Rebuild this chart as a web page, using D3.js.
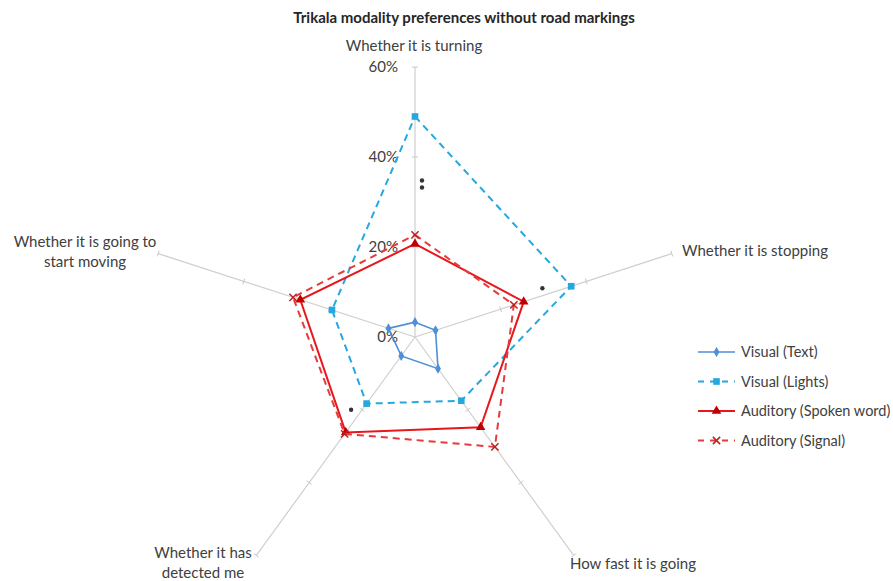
<!DOCTYPE html>
<html><head><meta charset="utf-8">
<script src="https://cdn.jsdelivr.net/npm/d3@7"></script>
<style>body{margin:0;background:#fff;} text{font-family:Lato,"Open Sans",sans-serif;}</style>
</head><body><svg id="c" width="893" height="581"></svg>
<script>
const categories = ["Whether it is turning","Whether it is stopping","How fast it is going","Whether it has detected me","Whether it is going to start moving"];
const visualText = [3.3, 4.8, 8.7, 5.2, 6.2];
const visualLights = [49, 36.5, 17.5, 18.3, 19.4];
const auditorySpoken = [20.7, 25.4, 24.8, 26.2, 26.8];
const auditorySignal = [22.7, 23.1, 30.2, 26.6, 28.5];
const tickValues = [0, 20, 40, 60];
const tickLabels = ["0%", "20%", "40%", "60%"];
const seriesNames = ["Visual (Text)", "Visual (Lights)", "Auditory (Spoken word)", "Auditory (Signal)"];
const significance = [{axis:0, value:34, label:"**"}, {axis:1, value:30, label:"*"}, {axis:3, value:20, label:"*"}];

const svg = d3.select("#c");
const cx = 415, cy = 337;
const r = d3.scaleLinear().domain([0, 60]).range([0, 270]);
const angle = d3.scaleLinear().domain([0, categories.length]).range([-Math.PI/2, 1.5*Math.PI]);
const pt = (i, v) => [cx + r(v)*Math.cos(angle(i)), cy + r(v)*Math.sin(angle(i))];

svg.append("text").attr("x", 464).attr("y", 23).attr("text-anchor","middle")
  .attr("font-size", 15).attr("font-weight","bold").attr("fill","#262626")
  .text("Trikala modality preferences without road markings");

// axes
categories.forEach((c, i) => {
  const [x2, y2] = pt(i, 60);
  svg.append("line").attr("x1", cx).attr("y1", cy).attr("x2", x2).attr("y2", y2)
    .attr("stroke", "#cfcfcf").attr("stroke-width", 1.2);
  const a = angle(i);
  tickValues.slice(1).forEach(t => {
    const [tx, ty] = pt(i, t);
    const px = -Math.sin(a)*3, py = Math.cos(a)*3;
    svg.append("line").attr("x1", tx - px).attr("y1", ty - py).attr("x2", tx + px).attr("y2", ty + py)
      .attr("stroke", "#c8c8c8").attr("stroke-width", 1);
  });
});

// tick labels
tickValues.forEach((t, k) => {
  const [x, y] = pt(0, t);
  svg.append("text").attr("x", x - 17).attr("y", y + 5).attr("text-anchor","end")
    .attr("font-size", 15).attr("fill", "#404040").text(tickLabels[k]);
});

// category labels
const labelPos = [
  {x: 414, y: 51, anchor: "middle", lines: ["Whether it is turning"]},
  {x: 682, y: 256, anchor: "start", lines: ["Whether it is stopping"]},
  {x: 570, y: 569, anchor: "start", lines: ["How fast it is going"]},
  {x: 203, y: 558, anchor: "middle", lines: ["Whether it has", "detected me"]},
  {x: 85, y: 247, anchor: "middle", lines: ["Whether it is going to", "start moving"]}
];
labelPos.forEach((p, i) => {
  const t = svg.append("text").attr("x", p.x).attr("y", p.y).attr("text-anchor", p.anchor)
    .attr("font-size", 15).attr("fill", "#404040");
  p.lines.forEach((l, j) => t.append("tspan").attr("x", p.x).attr("dy", j === 0 ? 0 : 20).text(l));
});

const series = [
  {name: seriesNames[0], data: visualText, color: "#4f8fd6", dash: null, width: 1.6, marker: "diamond"},
  {name: seriesNames[1], data: visualLights, color: "#24a8e0", dash: "7,5", width: 2, marker: "square"},
  {name: seriesNames[2], data: auditorySpoken, color: "#e8171c", dash: null, width: 2, marker: "triangle"},
  {name: seriesNames[3], data: auditorySignal, color: "#e83a3a", dash: "7,5", width: 2, marker: "cross"}
];
const line = d3.line().curve(d3.curveLinearClosed);
function drawMarker(g, type, x, y, color) {
  if (type === "diamond") g.append("path").attr("d", d3.symbol(d3.symbolDiamond, 30)()).attr("transform", `translate(${x},${y})`).attr("fill", color);
  else if (type === "square") g.append("path").attr("d", d3.symbol(d3.symbolSquare, 44)()).attr("transform", `translate(${x},${y})`).attr("fill", color);
  else if (type === "triangle") g.append("path").attr("d", d3.symbol(d3.symbolTriangle, 40)()).attr("transform", `translate(${x},${y})`).attr("fill", "#c00000");
  else g.append("path").attr("d", d3.symbol(d3.symbolX, 36)()).attr("transform", `translate(${x},${y})`).attr("stroke", "#c02020").attr("stroke-width", 1.5).attr("fill", "none");
}
series.forEach(s => {
  const pts = s.data.map((v, i) => pt(i, v));
  svg.append("path").attr("d", line(pts)).attr("fill", "none").attr("stroke", s.color)
    .attr("stroke-width", s.width).attr("stroke-dasharray", s.dash);
  const g = svg.append("g");
  pts.forEach(p => drawMarker(g, s.marker, p[0], p[1], s.color));
});

// significance marks (drawn as dots, as in the picture)
significance.forEach(m => {
  const [x, y] = pt(m.axis, m.value);
  const offs = m.axis === 0 ? [7, 0] : m.axis === 1 ? [-1, -7] : [-11, 0];
  const n = m.label.length;
  for (let k = 0; k < n; k++) {
    svg.append("circle").attr("cx", x + offs[0]).attr("cy", y + offs[1] + (k - (n-1)/2) * 7)
      .attr("r", 2.2).attr("fill", "#333");
  }
});

// legend
const lg = svg.append("g");
series.forEach((s, i) => {
  const y = 352 + i * 29.5;
  lg.append("line").attr("x1", 698).attr("x2", 735).attr("y1", y).attr("y2", y)
    .attr("stroke", s.color).attr("stroke-width", s.width).attr("stroke-dasharray", s.dash ? "6,6" : null);
  drawMarker(lg, s.marker, 716.5, y, s.color);
  lg.append("text").attr("x", 741).attr("y", y + 5).attr("font-size", 14.5).attr("fill", "#404040").text(s.name);
});
</script></body></html>
